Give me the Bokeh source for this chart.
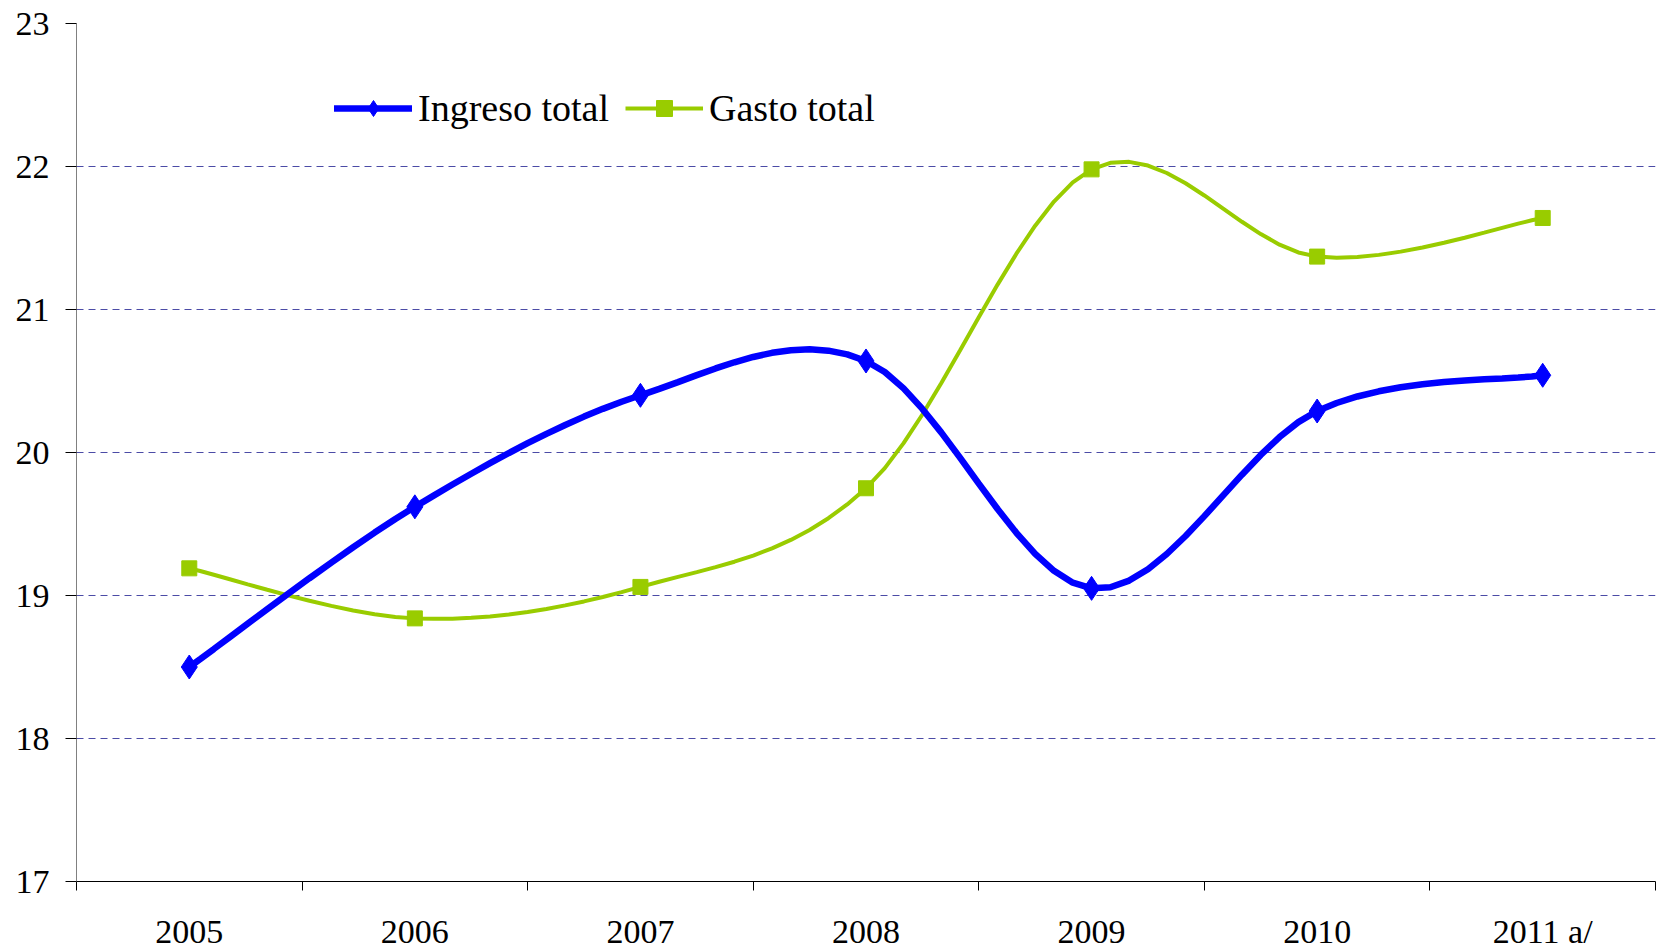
from bokeh.plotting import figure
from bokeh.models import FixedTicker, Legend, LegendItem, Range1d
from bokeh.embed import file_html
from bokeh.resources import INLINE

years = ["2005", "2006", "2007", "2008", "2009", "2010", "2011 a/"]
ingreso = [18.50, 19.62, 20.40, 20.64, 19.05, 20.29, 20.54]
gasto = [19.19, 18.84, 19.06, 19.75, 21.98, 21.37, 21.64]
y_ticks = [17, 18, 19, 20, 21, 22, 23]

FONT = "Liberation Serif"


def smooth(xs, ys, n=12):
    # Excel-style smoothed line: cubic Bezier segments (Catmull-Rom tangents)
    px, py = [], []
    m = len(xs)
    for i in range(m - 1):
        x0, y0 = xs[max(i - 1, 0)], ys[max(i - 1, 0)]
        x1, y1 = xs[i], ys[i]
        x2, y2 = xs[i + 1], ys[i + 1]
        x3, y3 = xs[min(i + 2, m - 1)], ys[min(i + 2, m - 1)]
        c1x, c1y = x1 + (x2 - x0) / 6, y1 + (y2 - y0) / 6
        c2x, c2y = x2 - (x3 - x1) / 6, y2 - (y3 - y1) / 6
        for k in range(n + (1 if i == m - 2 else 0)):
            t = k / n
            a, b, c, d = (1 - t) ** 3, 3 * (1 - t) ** 2 * t, 3 * (1 - t) * t ** 2, t ** 3
            px.append(a * x1 + b * c1x + c * c2x + d * x2)
            py.append(a * y1 + b * c1y + c * c2y + d * y2)
    return px, py


xs = list(range(len(years)))

W, H = 1659, 952
p = figure(width=W, height=H, output_backend="svg", toolbar_location=None,
           x_range=Range1d(-0.5, len(years) - 0.5), y_range=Range1d(17, 23),
           min_border_left=76, min_border_top=23, min_border_bottom=H - 881,
           min_border_right=W - 1655)
p.outline_line_color = None
p.background_fill_color = "white"
p.border_fill_color = "white"

# grids
p.xgrid.visible = False
p.ygrid.grid_line_color = "#4B4BA6"
p.ygrid.grid_line_dash = "7 5"
p.ygrid.grid_line_width = 1

# x axis
p.xaxis.ticker = FixedTicker(ticks=xs, minor_ticks=[i - 0.5 for i in range(len(years) + 1)])
p.xaxis.major_label_overrides = {i: y for i, y in enumerate(years)}
p.xaxis.major_tick_out = 0
p.xaxis.major_tick_in = 0
p.xaxis.minor_tick_out = 9
p.xaxis.minor_tick_in = 0
p.xaxis.minor_tick_line_color = "black"
p.xaxis.axis_line_color = "black"
p.xaxis.major_label_standoff = 22
p.xaxis.major_label_text_font = FONT
p.xaxis.major_label_text_font_size = "34px"
p.xaxis.major_label_text_color = "black"

# y axis
p.yaxis.ticker = FixedTicker(ticks=y_ticks, minor_ticks=[])
p.yaxis.major_tick_out = 11
p.yaxis.major_tick_in = 0
p.yaxis.major_tick_line_color = "black"
p.yaxis.axis_line_color = "#808080"
p.yaxis.major_label_standoff = 16
p.yaxis.major_label_text_font = FONT
p.yaxis.major_label_text_font_size = "34px"
p.yaxis.major_label_text_color = "black"

# series
ix, iy = smooth(xs, ingreso)
gx, gy = smooth(xs, gasto)

g_line = p.line(gx, gy, line_color="#99CC00", line_width=4)
g_pts = p.scatter(xs, gasto, marker="square", size=15, fill_color="#99CC00", line_color="#99CC00")
i_line = p.line(ix, iy, line_color="#0000FF", line_width=6.5, line_cap="round")
i_pts = p.scatter(xs, ingreso, marker="diamond", size=24, fill_color="#0000FF", line_color="#0000FF")

legend = Legend(items=[LegendItem(label="Ingreso total", renderers=[i_line, i_pts]),
                       LegendItem(label="Gasto total", renderers=[g_line, g_pts])],
                orientation="horizontal", location=(258, 751),
                border_line_color=None, background_fill_alpha=0,
                label_text_font=FONT, label_text_font_size="38px", label_text_color="black",
                glyph_width=78, glyph_height=40, label_standoff=6, spacing=16,
                padding=0, margin=0)
p.add_layout(legend)

open("out.html", "w").write(file_html(p, INLINE))
